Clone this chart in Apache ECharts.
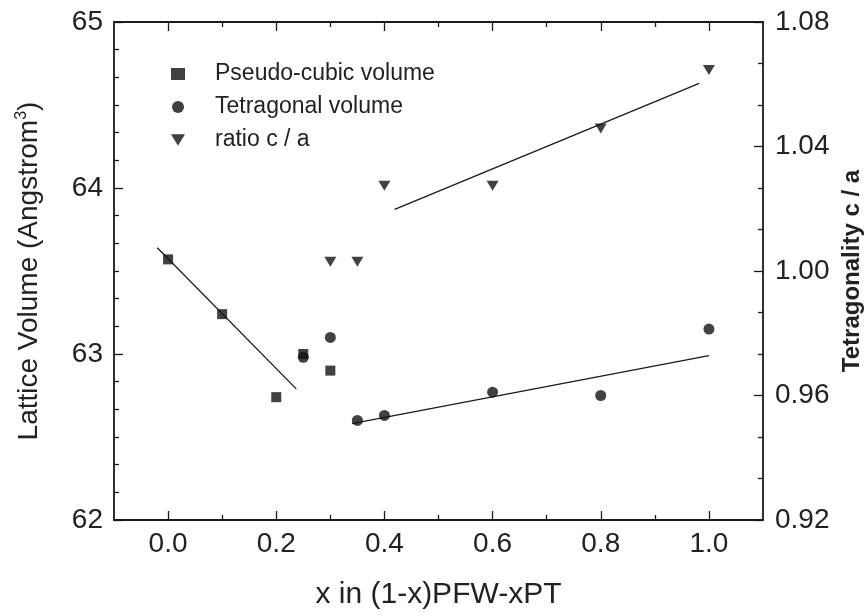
<!DOCTYPE html>
<html>
<head>
<meta charset="utf-8">
<script src="https://cdn.jsdelivr.net/npm/echarts@6/dist/echarts.min.js"></script>
<style>
  html, body { margin: 0; padding: 0; background: #fff; }
  #chart { width: 864px; height: 616px; }
</style>
</head>
<body>
<div id="chart"></div>
<script>
// data
const cubicX = [0.0, 0.1, 0.2, 0.25, 0.3];
const cubicV = [63.57, 63.24, 62.74, 63.00, 62.90];
const tetraX = [0.25, 0.3, 0.35, 0.4, 0.6, 0.8, 1.0];
const tetraV = [62.98, 63.10, 62.60, 62.63, 62.77, 62.75, 63.15];
const ratioX = [0.3, 0.35, 0.4, 0.6, 0.8, 1.0];
const ratioCA = [1.003, 1.003, 1.0274, 1.0274, 1.0458, 1.0646];
// fitted lines (end points)
const cubicFit = [[-0.02, 63.64], [0.237, 62.79]];
const tetraFit = [[0.34, 62.58], [1.0, 62.99]];
const ratioFit = [[0.419, 1.0198], [0.982, 1.0603]];

const majorX = [0.0, 0.2, 0.4, 0.6, 0.8, 1.0];
const minorX = [0.1, 0.3, 0.5, 0.7, 0.9];

const zip = (xs, ys) => xs.map((x, i) => [x, ys[i]]);

const ink = '#1a1a1a';
const font = 'Liberation Sans, Arial, sans-serif';
const downTri = 'path://M0,0 L12,0 L6,10 Z';

function xAx(pos, ticks, len, showLabel, showLine) {
  return {
    type: 'value', position: pos, min: -0.1, max: 1.1, interval: 0.1,
    splitLine: { show: false },
    axisLine: { show: showLine, onZero: false, lineStyle: { color: ink, width: 1.8 } },
    axisTick: { show: true, inside: true, length: len, customValues: ticks, lineStyle: { color: ink, width: 1.3 } },
    axisLabel: {
      show: showLabel, customValues: majorX, margin: 10,
      fontFamily: font, fontSize: 28, color: '#222',
      formatter: v => v.toFixed(1)
    }
  };
}

const bottomMain = xAx('bottom', majorX, 9, true, true);
bottomMain.name = 'x in (1-x)PFW-xPT';
bottomMain.nameLocation = 'middle';
bottomMain.nameGap = 60;
bottomMain.nameTextStyle = { fontFamily: font, fontSize: 30, color: '#222' };

const chart = echarts.init(document.getElementById('chart'));
chart.setOption({
  backgroundColor: '#fff',
  animation: false,
  grid: { left: 114, right: 101, top: 22, bottom: 96, containLabel: false, outerBoundsMode: 'none' },
  legend: {
    data: [
      { name: 'Pseudo-cubic volume', icon: 'rect' },
      { name: 'Tetragonal volume', icon: 'circle' },
      { name: 'ratio c / a', icon: downTri }
    ],
    orient: 'vertical', left: 166, top: 57, itemGap: 9,
    itemWidth: 14, itemHeight: 12,
    textStyle: { fontFamily: font, fontSize: 23, lineHeight: 24, color: '#222', padding: [0, 0, 0, 25] }
  },
  xAxis: [
    bottomMain,
    xAx('bottom', minorX, 5, false, false),
    xAx('top', majorX, 9, false, true),
    xAx('top', minorX, 5, false, false)
  ],
  yAxis: [
    {
      type: 'value', position: 'left', min: 62, max: 65, interval: 1,
      name: 'Lattice Volume (Angstrom{sup|3})',
      nameLocation: 'middle', nameGap: 70, nameRotate: 90,
      nameTextStyle: {
        fontFamily: font, fontSize: 28, color: '#222',
        rich: { sup: { fontFamily: font, fontSize: 16, color: '#222', verticalAlign: 'top', padding: [0, 0, 14, 0] } }
      },
      splitLine: { show: false },
      axisLine: { show: true, onZero: false, lineStyle: { color: ink, width: 1.8 } },
      axisTick: { inside: true, length: 9, lineStyle: { color: ink, width: 1.3 } },
      minorTick: { show: true, splitNumber: 6, length: 5, lineStyle: { color: ink, width: 1.3 } },
      axisLabel: { margin: 11, fontFamily: font, fontSize: 28, color: '#222' }
    },
    {
      type: 'value', position: 'right', min: 0.92, max: 1.08, interval: 0.04,
      name: 'Tetragonality c / a',
      nameLocation: 'middle', nameGap: 64, nameRotate: 90,
      nameTextStyle: { fontFamily: font, fontSize: 24, fontWeight: 'bold', color: '#222' },
      splitLine: { show: false },
      axisLine: { show: true, onZero: false, lineStyle: { color: ink, width: 1.8 } },
      axisTick: { inside: true, length: 9, lineStyle: { color: ink, width: 1.3 } },
      minorTick: { show: true, splitNumber: 3, length: 5, lineStyle: { color: ink, width: 1.3 } },
      axisLabel: { margin: 12, fontFamily: font, fontSize: 28, color: '#222', formatter: v => v.toFixed(2) }
    }
  ],
  series: [
    {
      name: 'Pseudo-cubic volume', type: 'scatter', yAxisIndex: 0,
      symbol: 'rect', symbolSize: 10, itemStyle: { color: '#111' },
      data: zip(cubicX, cubicV), z: 3
    },
    {
      name: 'Tetragonal volume', type: 'scatter', yAxisIndex: 0,
      symbol: 'circle', symbolSize: 11, itemStyle: { color: '#111' },
      data: zip(tetraX, tetraV), z: 4
    },
    {
      name: 'ratio c / a', type: 'scatter', yAxisIndex: 1,
      symbol: downTri, symbolSize: [12, 10], itemStyle: { color: '#111' },
      data: zip(ratioX, ratioCA), z: 3
    },
    {
      name: 'cubic fit', type: 'line', yAxisIndex: 0, showSymbol: false, symbol: 'none',
      lineStyle: { color: ink, width: 1.3 }, data: cubicFit, z: 2
    },
    {
      name: 'tetra fit', type: 'line', yAxisIndex: 0, showSymbol: false, symbol: 'none',
      lineStyle: { color: ink, width: 1.3 }, data: tetraFit, z: 2
    },
    {
      name: 'ratio fit', type: 'line', yAxisIndex: 1, showSymbol: false, symbol: 'none',
      lineStyle: { color: ink, width: 1.3 }, data: ratioFit, z: 2
    }
  ]
});
</script>
</body>
</html>
